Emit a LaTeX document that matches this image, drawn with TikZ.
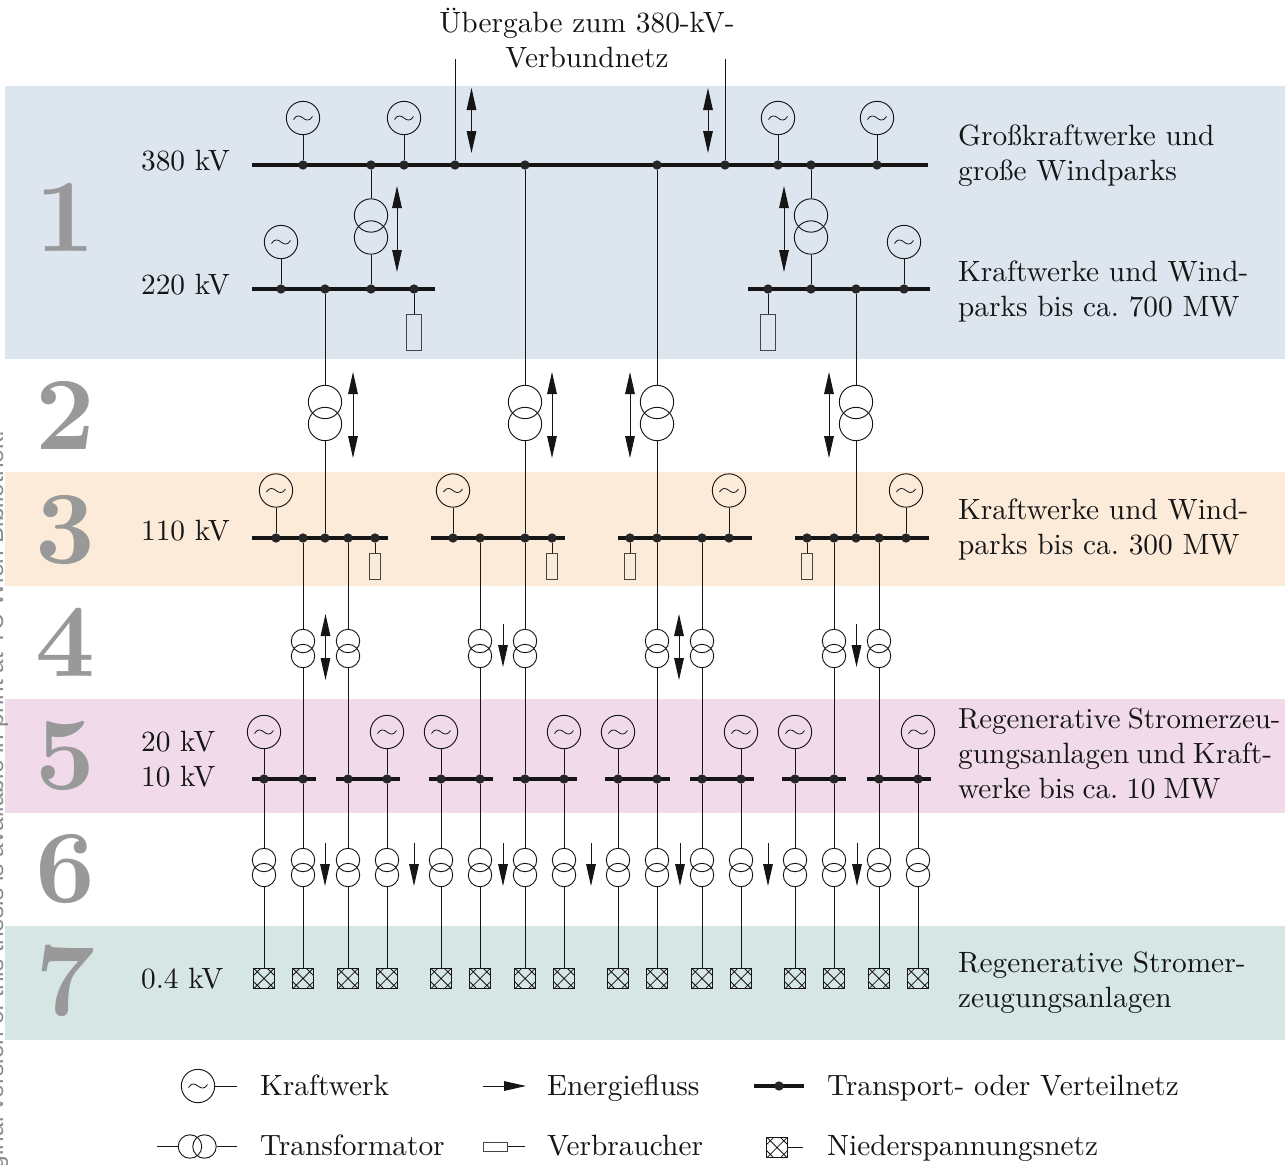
\documentclass[tikz,border=0pt]{standalone}
\usepackage{fontspec}
\usetikzlibrary{arrows.meta}
\newfontfamily\wmfont{Liberation Sans}
\definecolor{bandA}{HTML}{DDE5EF}
\definecolor{bandC}{HTML}{FCEBD9}
\definecolor{bandE}{HTML}{F1DBEA}
\definecolor{bandG}{HTML}{D5E6E4}
\definecolor{numgray}{HTML}{999999}
\definecolor{wmgray}{HTML}{8C8C8C}
\definecolor{inkc}{HTML}{151515}
\tikzset{
  wire/.style={line width=0.75pt,draw=inkc},
  busbar/.style={line width=3.2pt,draw=inkc},
  bdot/.style={circle,fill=inkc!85!gray,draw=none,inner sep=0pt,minimum size=7pt},
  gen/.style={circle,draw=inkc,line width=0.7pt,inner sep=0pt,minimum size=25pt,
    path picture={\begin{scope}[shift={(path picture bounding box.center)}]
      \draw[line width=0.6pt,draw=inkc] (-9.5,1.5) .. controls (-6.5,-3.5) and (-3,-2.5) .. (0,0) .. controls (3,2.5) and (6.5,3.5) .. (9.5,-1.5);
      \end{scope}}},
  big/.style={circle,draw=inkc,line width=0.7pt,inner sep=0pt,minimum size=25pt},
  small/.style={circle,draw=inkc,line width=0.7pt,inner sep=0pt,minimum size=17.6pt},
  lvbox/.style={rectangle,draw=inkc,line width=0.85pt,inner sep=0pt,minimum size=15.5pt,
    path picture={\begin{scope}[shift={(path picture bounding box.center)}]
      \draw[line width=0.55pt,draw=inkc] (-11,-11) -- (11,11) (-11,11) -- (11,-11)
        (-10.5,-3) -- (-3,-10.5) (3,-10.5) -- (10.5,-3) (10.5,3) -- (3,10.5) (-3,10.5) -- (-10.5,3);
      \end{scope}}},
  loadbig/.style={rectangle,draw=inkc!80,fill=none,line width=0.7pt,inner sep=0pt,minimum width=11.2pt,minimum height=27pt},
  loadsmall/.style={rectangle,draw=inkc!80,fill=none,line width=0.7pt,inner sep=0pt,minimum width=8.2pt,minimum height=19.5pt},
  loadleg/.style={rectangle,draw=inkc!80,fill=none,line width=0.7pt,inner sep=0pt,minimum width=18.5pt,minimum height=6.8pt},
  flowboth/.style={line width=0.75pt,draw=inkc,{Triangle[length=16.5pt,width=7.2pt]}-{Triangle[length=16.5pt,width=7.2pt]}},
  flowdown/.style={line width=0.75pt,draw=inkc,-{Triangle[length=16.5pt,width=7.2pt]}},
  lbl/.style={anchor=base west,inner sep=0pt,scale=2.2,font=\fontsize{10}{12}\selectfont\frenchspacing,text=inkc},
  topl/.style={anchor=base,inner sep=0pt,scale=2.2,font=\fontsize{10}{12}\selectfont,text=inkc},
  numeral/.style={anchor=base,inner sep=0pt,scale=7.8,font=\fontsize{10}{12}\selectfont\bfseries,text=numgray},
}
\begin{document}
\begin{tikzpicture}[x=0.75pt,y=-0.75pt]
\useasboundingbox (0,0) rectangle (1285,1164);
% bands
\fill[bandA] (5,86) rectangle (1285,359);
\fill[bandC] (5,472) rectangle (1285,586);
\fill[bandE] (5,699) rectangle (1285,813);
\fill[bandG] (5,926) rectangle (1285,1040);
% numerals
\node[numeral] (nA) at (65,251) {1};
\node[numeral] (nB) at (65,449) {2};
\node[numeral] (nC) at (65,563) {3};
\node[numeral] (nD) at (65,676) {4};
\node[numeral] (nE) at (65,789) {5};
\node[numeral] (nF) at (65,902) {6};
\node[numeral] (nG) at (65,1015) {7};
% bus ends
\foreach \n/\xa/\xb/\y in {t/252/928/165, la/252/435/289, lb/748/930/289,
   ma/252/388/538, mb/431/565/538, mc/618/752/538, md/795/929/538,
   sa/252/316/779, sb/336/400/779, sc/429/493/779, sd/513/577/779,
   se/605/670/779, sf/690/754/779, sg/782/846/779, sh/867/931/779}{
  \coordinate (\n L) at (\xa,\y);
  \coordinate (\n R) at (\xb,\y);
  \draw[busbar] (\n L) -- (\n R);
}
% dots on buses
\foreach \x in {303,371,404,455,525,657,725,778,811,877}{\node[bdot] (T\x) at (\x,165) {};}
\foreach \x in {281,325,371,414,768,811,856,904}{\node[bdot] (H\x) at (\x,289) {};}
\foreach \x in {276,303,325,348,375,453,480,525,552,630,657,702,729,807,834,856,879,906}{\node[bdot] (M\x) at (\x,538) {};}
\foreach \x in {264,303,348,387,441,480,525,564,618,657,702,741,795,834,879,918}{\node[bdot] (S\x) at (\x,779) {};}
% generators
\foreach \x in {303,404,778,877}{\node[gen] (GT\x) at (\x,118) {}; \draw[wire] (GT\x) -- (T\x);}
\foreach \x in {281,904}{\node[gen] (GH\x) at (\x,242) {}; \draw[wire] (GH\x) -- (H\x);}
\foreach \x in {276,453,729,906}{\node[gen] (GM\x) at (\x,490.5) {}; \draw[wire] (GM\x) -- (M\x);}
\foreach \x in {264,387,441,564,618,741,795,918}{\node[gen] (GS\x) at (\x,732) {}; \draw[wire] (GS\x) -- (S\x);}
% loads
\foreach \x in {414,768}{\node[loadbig] (LH\x) at (\x,332) {}; \draw[wire] (H\x) -- (LH\x);}
\foreach \x in {375,552,630,807}{\node[loadsmall] (LM\x) at (\x,566) {}; \draw[wire] (M\x) -- (LM\x);}
% incoming feeders
\coordinate (feedA) at (455,59);
\coordinate (feedB) at (725,59);
\draw[wire] (feedA) -- (T455);
\draw[wire] (feedB) -- (T725);
% 380/220 transformers
\foreach \x in {371,811}{
  \node[big] (UA\x) at (\x,215.5) {};
  \node[big] (UB\x) at (\x,237.5) {};
  \draw[wire] (T\x) -- (UA\x);
  \draw[wire] (UB\x) -- (H\x);
}
% level 2 transformers
\foreach \x in {325,525,657,856}{
  \node[big] (VA\x) at (\x,402) {};
  \node[big] (VB\x) at (\x,424) {};
  \draw[wire] (VB\x) -- (M\x);
}
\draw[wire] (H325) -- (VA325);
\draw[wire] (T525) -- (VA525);
\draw[wire] (T657) -- (VA657);
\draw[wire] (H856) -- (VA856);
% level 4 transformers
\foreach \x in {303,348,480,525,657,702,834,879}{
  \node[small] (WA\x) at (\x,641) {};
  \node[small] (WB\x) at (\x,656) {};
  \draw[wire] (M\x) -- (WA\x);
  \draw[wire] (WB\x) -- (S\x);
}
% level 6 transformers and low-voltage networks
\foreach \x in {264,303,348,387,441,480,525,564,618,657,702,741,795,834,879,918}{
  \node[small] (XA\x) at (\x,860) {};
  \node[small] (XB\x) at (\x,875) {};
  \node[lvbox] (N\x) at (\x,978.5) {};
  \draw[wire] (S\x) -- (XA\x);
  \draw[wire] (XB\x) -- (N\x);
}
% flow arrows
\foreach \n/\x/\ya/\yb in {a/471.5/88/153, b/708/88/153, c/397/186/272, d/784/186/272,
   e/353/372/458, f/552/372/458, g/630/372/458, h/829/372/458, i/325.5/614/680, j/679/614/680}{
  \coordinate (fa\n) at (\x,\ya);
  \coordinate (fb\n) at (\x,\yb);
  \draw[flowboth] (fa\n) -- (fb\n);
}
\foreach \n/\x/\ya/\yb in {a/503/624/667, b/856.5/624/667, c/325/843/886, d/414/843/886, e/503/843/886,
   f/591/843/886, g/680/843/886, h/768/843/886, i/857/843/886}{
  \coordinate (da\n) at (\x,\ya);
  \coordinate (db\n) at (\x,\yb);
  \draw[flowdown] (da\n) -- (db\n);
}
% voltage labels
\node[lbl] (vA) at (140.5,170) {380 kV};
\node[lbl] (vB) at (140.5,294) {220 kV};
\node[lbl] (vC) at (140.5,540) {110 kV};
\node[lbl] (vD) at (140.5,751) {20 kV};
\node[lbl] (vE) at (140.5,786) {10 kV};
\node[lbl] (vF) at (140.5,988) {0.4 kV};
% right labels
\node[lbl] (rA) at (957.5,145) {Großkraftwerke und};
\node[lbl] (rB) at (957.5,180) {große Windparks};
\node[lbl] (rC) at (957.5,281) {Kraftwerke und Wind-};
\node[lbl] (rD) at (957.5,316) {parks bis ca. 700 MW};
\node[lbl] (rE) at (957.5,519) {Kraftwerke und Wind-};
\node[lbl] (rF) at (957.5,554) {parks bis ca. 300 MW};
\node[lbl,scale=0.985] (rG) at (957.5,728) {\spaceskip=2.5pt Regenerative Stromerzeu-};
\node[lbl] (rH) at (957.5,763) {\spaceskip=2.5pt gungsanlagen und Kraft-};
\node[lbl] (rI) at (957.5,798) {\spaceskip=2.7pt werke bis ca. 10 MW};
\node[lbl] (rJ) at (957.5,972) {Regenerative Stromer-};
\node[lbl] (rK) at (957.5,1007) {zeugungsanlagen};
% top label
\node[topl] (tA) at (587,32) {Übergabe zum 380-kV-};
\node[topl] (tB) at (587,67) {Verbundnetz};
% legend
\node[gen] (lgG) at (198,1086) {};
\coordinate (lgGe) at (237,1086);
\draw[wire] (lgG) -- (lgGe);
\node[lbl] (ltA) at (259.5,1095) {Kraftwerk};
\coordinate (lgAa) at (483,1086);
\coordinate (lgAb) at (526,1086);
\draw[flowdown] (lgAa) -- (lgAb);
\node[lbl] (ltB) at (546.5,1095) {Energiefluss};
\coordinate (lgBa) at (754,1086);
\coordinate (lgBb) at (804,1086);
\draw[busbar] (lgBa) -- (lgBb);
\node[bdot] (lgBd) at (779,1086) {};
\node[lbl] (ltC) at (826.5,1095) {Transport- oder Verteilnetz};
\node[small] (lgTa) at (190,1146.5) {};
\node[small] (lgTb) at (204.5,1146.5) {};
\coordinate (lgTl) at (157,1146.5);
\coordinate (lgTr) at (237,1146.5);
\draw[wire] (lgTl) -- (lgTa);
\draw[wire] (lgTb) -- (lgTr);
\node[lbl] (ltD) at (259.5,1155) {Transformator};
\node[loadleg] (lgL) at (495.5,1146.5) {};
\coordinate (lgLe) at (525,1146.5);
\draw[wire] (lgL) -- (lgLe);
\node[lbl] (ltE) at (546.5,1155) {Verbraucher};
\node[lvbox] (lgN) at (777,1147.5) {};
\coordinate (lgNe) at (803,1147.5);
\draw[wire] (lgN) -- (lgNe);
\node[lbl] (ltF) at (826.5,1155) {Niederspannungsnetz};
% margin text
\node[anchor=base east,rotate=90,inner sep=0pt,text=wmgray,font=\wmfont\fontsize{18.4}{22}\selectfont] (wm) at (3,430)
  {ginal version of this thesis is available in print at TU Wien Bibliothek.};
\end{tikzpicture}
\end{document}
